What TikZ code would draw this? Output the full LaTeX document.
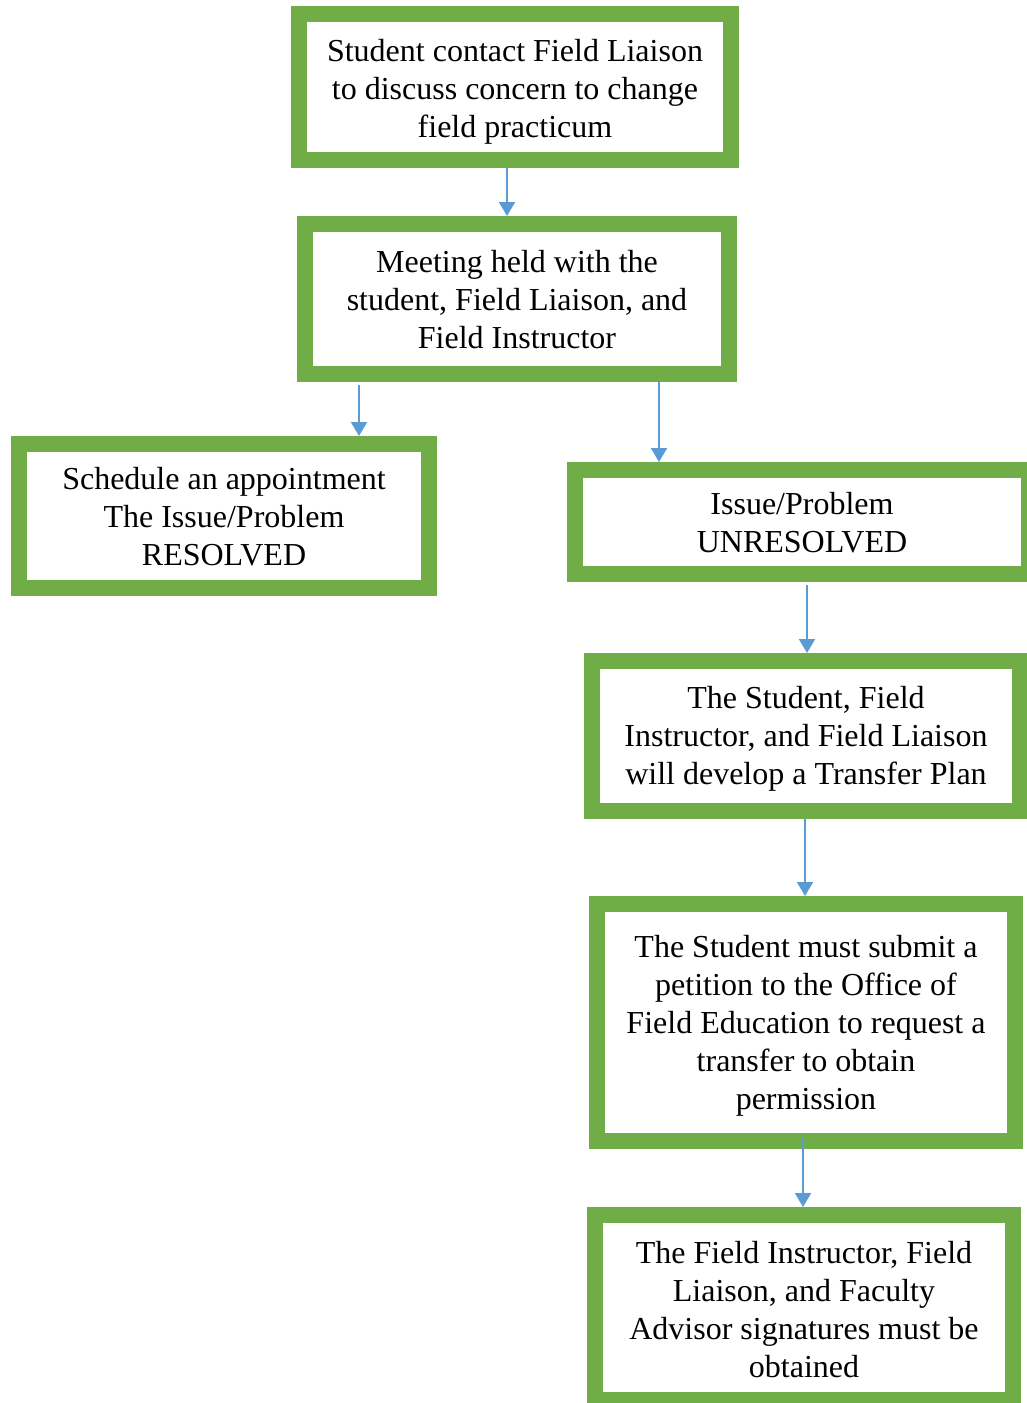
\documentclass[tikz,border=0pt]{standalone}
\usepackage{fontspec}
\setmainfont{Liberation Serif}
\usetikzlibrary{arrows.meta}
\definecolor{boxgreen}{HTML}{70AD47}
\definecolor{arrblue}{HTML}{5B9BD5}
\newcommand{\boxtext}[2][0pt]{\raisebox{-#1}[\height][\depth]{\begin{tabular}{@{}c@{}}#2\end{tabular}}}
\tikzset{
  flowbox/.style={draw=boxgreen, line width=16pt, fill=white, rectangle, align=center, inner sep=0pt,
    font=\fontsize{32pt}{38pt}\selectfont},
  arr/.style={draw=arrblue, line width=2pt, -{Triangle[width=16pt,length=14pt]}}
}
\begin{document}
\begin{tikzpicture}[x=1pt,y=-1pt]
\useasboundingbox (0,0) rectangle (1026,1403);
\node[flowbox, minimum width=432pt, minimum height=146pt] (b1) at (515,87)
  {\boxtext[5pt]{Student contact Field Liaison\\to discuss concern to change\\field practicum}};
\node[flowbox, minimum width=424pt, minimum height=150pt] (b2) at (517,299)
  {\boxtext[4pt]{Meeting held with the\\student, Field Liaison, and\\Field Instructor}};
\node[flowbox, minimum width=410pt, minimum height=144pt] (b3) at (224,516)
  {\boxtext[4pt]{Schedule an appointment\\The Issue/Problem\\RESOLVED}};
\node[flowbox, minimum width=454pt, minimum height=104pt] (b4) at (802,522)
  {\boxtext[4pt]{Issue/Problem\\UNRESOLVED}};
\node[flowbox, minimum width=428pt, minimum height=150pt] (b5) at (806,736)
  {\boxtext[3pt]{The Student, Field\\Instructor, and Field Liaison\\will develop a Transfer Plan}};
\node[flowbox, minimum width=418pt, minimum height=237pt] (b6) at (806,1022.5)
  {\boxtext[3pt]{The Student must submit a\\petition to the Office of\\Field Education to request a\\transfer to obtain\\permission}};
\node[flowbox, minimum width=418pt, minimum height=185pt] (b7) at (804,1307.5)
  {\boxtext[5pt]{The Field Instructor, Field\\Liaison, and Faculty\\Advisor signatures must be\\obtained}};
\coordinate (x12) at (507,0);
\coordinate (x23) at (359,0);
\coordinate (x24) at (659,0);
\coordinate (x45) at (807,0);
\coordinate (x56) at (805,0);
\coordinate (x67) at (803,0);
\draw[arr] (b1.south -| x12) -- (b2.north -| x12);
\draw[arr] ([yshift=-3pt]b2.south -| x23) -- (b3.north -| x23);
\draw[arr] (b2.south -| x24) -- (b4.north -| x24);
\draw[arr] ([yshift=-3pt]b4.south -| x45) -- (b5.north -| x45);
\draw[arr] (b5.south -| x56) -- (b6.north -| x56);
\draw[arr] ([yshift=12pt]b6.south -| x67) -- (b7.north -| x67);
\end{tikzpicture}
\end{document}
